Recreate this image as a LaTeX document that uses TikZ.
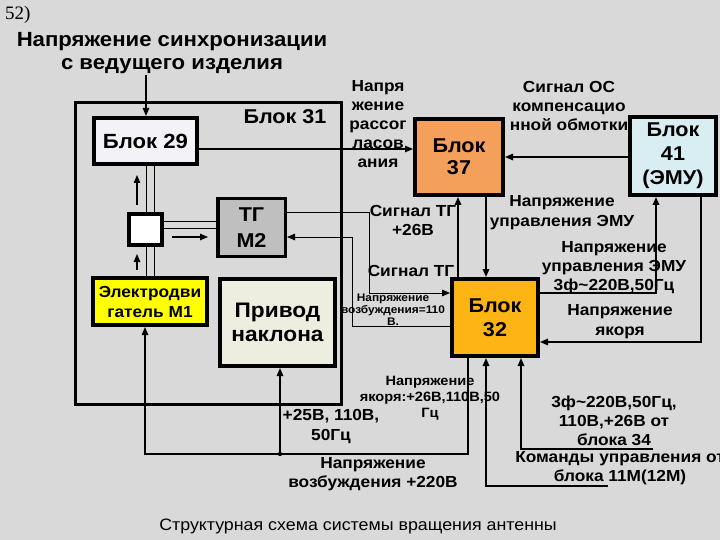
\documentclass[tikz,border=0pt]{standalone}
\usepackage{fontspec}
\setmainfont{Liberation Sans}[FakeStretch=1.08]
\newfontfamily\numfont{Liberation Serif}
\usetikzlibrary{arrows.meta}
\definecolor{bg}{HTML}{D9D9D9}
\definecolor{c29}{HTML}{F3F3F7}
\definecolor{ctg}{HTML}{BFBFBF}
\definecolor{ced}{HTML}{FFFF00}
\definecolor{cpr}{HTML}{EDEDE0}
\definecolor{c37}{HTML}{F5A05A}
\definecolor{c41}{HTML}{D9EEF3}
\definecolor{c32}{HTML}{FDB515}
\begin{document}
\begin{tikzpicture}[x=1pt,y=-1pt,
  blk/.style={draw=black, line width=4pt, font=\bfseries\fontsize{20}{24}\selectfont, align=center, inner sep=0pt},
  lbl/.style={font=\bfseries\fontsize{16}{19}\selectfont, align=center, inner sep=0pt},
  arr/.style={line width=1.3pt, -{Triangle[length=8pt,width=6.5pt]}},
  ln/.style={line width=1pt},
]
\fill[bg] (0,0) rectangle (720,540);
\useasboundingbox (0,0) rectangle (720,540);

% texts at top
\node[anchor=west, inner sep=0pt, font=\numfont\fontsize{19}{22}\selectfont] (num) at (5,15) {52)};
\node[font=\bfseries\fontsize{20.5}{23}\selectfont, align=center, inner sep=0pt] (title) at (172,53) {Напряжение синхронизации\\с ведущего изделия};

% Block 31 frame
\node[draw=black, line width=3pt, minimum width=266pt, minimum height=302pt, inner sep=0pt] (b31) at (208.5,253.5) {};
\node[font=\bfseries\fontsize{20}{24}\selectfont, inner sep=0pt] (b31t) at (285,117) {Блок 31};

% blocks
\node[blk, fill=c29, minimum width=103pt, minimum height=46pt, font=\bfseries\fontsize{20.5}{24}\selectfont] (b29) at (145.5,141) {Блок 29};
\node[blk, fill=ced, minimum width=114pt, minimum height=47pt, font=\bfseries\fontsize{16}{20}\selectfont] (ed) at (150,301.5) {Электродви\\гатель М1};
\node[blk, fill=cpr, minimum width=115pt, minimum height=87pt, font=\bfseries\fontsize{21}{24.5}\selectfont] (pr) at (277.5,322.5) {Привод\\наклона};
\node[blk, fill=ctg, line width=3.5pt, minimum width=67.5pt, minimum height=57.5pt, font=\bfseries\fontsize{20}{26}\selectfont] (tg) at (251.5,227.5) {ТГ\\М2};
\node[blk, fill=c37, minimum width=88pt, minimum height=76pt, font=\bfseries\fontsize{20}{22}\selectfont] (b37) at (459,157) {Блок\\37};
\node[blk, fill=c41, minimum width=86pt, minimum height=78pt, font=\bfseries\fontsize{20}{24}\selectfont] (b41) at (673,156) {Блок\\41\\(ЭМУ)};
\node[blk, fill=c32, minimum width=86pt, minimum height=77pt, font=\bfseries\fontsize{20}{24}\selectfont] (b32) at (495,317.5) {Блок\\32};

% lines Block 29 -- Electrodvigatel (behind small box)
\draw[ln] (146,0 |- b29.south) -- (146,0 |- ed.north);
\draw[ln] (154,0 |- b29.south) -- (154,0 |- ed.north);
\node[blk, fill=white, minimum width=33pt, minimum height=31pt] (sb) at (145.5,229.5) {};

% free-end coordinates
\coordinate (ttop) at (146,75);
\coordinate (u1s) at (137,205);
\coordinate (u1e) at (137,175);
\coordinate (u2s) at (137,270);
\coordinate (u2e) at (137,254);
\coordinate (r1s) at (172,237);
\coordinate (r1e) at (208,237);
\coordinate (dot) at (280,454);
\coordinate (c34) at (653,449);
\coordinate (c11) at (608,486);

% connectors
\draw[arr] (ttop) -- (ttop |- b29.north);
\draw[arr] (b29.east |- 0,149) -- (b37.west |- 0,149);
\draw[arr] (b41.west |- 0,157) -- (b37.east |- 0,157);
\draw[arr] (u1s) -- (u1e);
\draw[arr] (u2s) -- (u2e);
\draw[ln] (sb.east |- 0,222) -- (tg.west |- 0,222);
\draw[ln] (sb.east |- 0,229) -- (tg.west |- 0,229);
\draw[arr] (r1s) -- (r1e);
\draw[ln, -{Triangle[length=8pt,width=6.5pt]}] (tg.east |- 0,213) -- (369,213) -- (369,293) -- (b32.west |- 0,293);
\draw[ln, -{Triangle[length=8pt,width=6.5pt]}] (b32.west |- 0,326) -- (352,326) -- (352,237) -- (tg.east |- 0,237);
\draw[arr, line width=1.7pt] (b32.north -| 458,0) -- (b37.south -| 458,0);
\draw[arr, line width=1.7pt] (b37.south -| 486,0) -- (b32.north -| 486,0);
\draw[arr, line width=1.6pt] (b32.east |- 0,293) -- (656,293) -- (b41.south -| 656,0);
\draw[arr, line width=1.6pt] (b41.south -| 701,0) -- (701,342) -- (b32.east |- 0,342);
\draw[arr] (b32.south -| 468,0) -- (468,454) -- (145,454) -- (ed.south -| 145,0);
\draw[arr, line width=1.6pt] (dot) -- (dot |- pr.south);
\fill (dot) circle (2.2pt);
\draw[arr, line width=1.6pt] (c34) -- (521,449) -- (b32.south -| 521,0);
\draw[arr, line width=1.6pt] (c11) -- (486,486) -- (b32.south -| 486,0);

% labels
\node[lbl] (l1) at (378,124) {Напря\\жение\\рассог\\ласов\\ания};
\node[lbl] (l2) at (569,106) {Сигнал ОС\\компенсацио\\нной обмотки};
\node[lbl] (l3) at (413,220) {Сигнал ТГ\\+26В};
\node[lbl, font=\bfseries\fontsize{16}{20}\selectfont] (l4) at (562,213) {Напряжение\\управления ЭМУ};
\node[lbl] (l5) at (411,271) {Сигнал ТГ};
\node[lbl, font=\bfseries\fontsize{11}{12}\selectfont] (l6) at (393,310) {Напряжение\\возбуждения=110\\В.};
\node[lbl] (l7) at (614,268) {Напряжение\\управления ЭМУ\\3ф\textasciitilde220В,50Гц};
\node[lbl, font=\bfseries\fontsize{16}{20}\selectfont] (l8) at (620,322) {Напряжение\\якоря};
\node[lbl, font=\bfseries\fontsize{13.5}{16}\selectfont] (l9) at (430,398) {Напряжение\\якоря:+26В,110В,50\\Гц};
\node[lbl, font=\bfseries\fontsize{16}{20}\selectfont] (l10) at (331,427) {+25В, 110В,\\50Гц};
\node[lbl] (l11) at (373,474) {Напряжение\\возбуждения +220В};
\node[lbl] (l12) at (614,421) {3ф\textasciitilde220В,50Гц,\\110В,+26В от\\блока 34};
\node[lbl] (l13) at (620,468) {Команды управления от\\блока 11М(12М)};

\node[inner sep=0pt, font=\fontsize{16.5}{20}\selectfont] (cap) at (358,526) {Структурная схема системы вращения антенны};
\end{tikzpicture}
\end{document}
